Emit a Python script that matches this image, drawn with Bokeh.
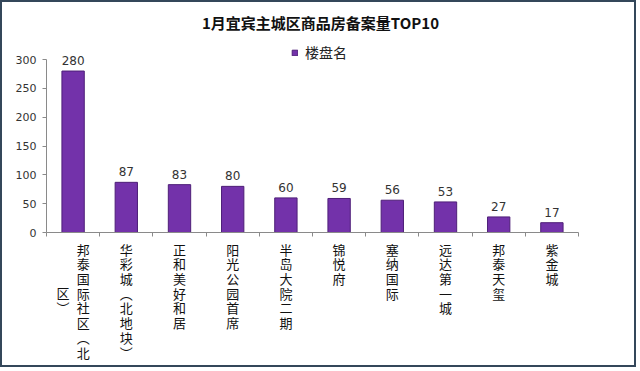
from bokeh.plotting import figure
from bokeh.models import (ColumnDataSource, LabelSet, Label, Range1d, FixedTicker,
                          Legend, LegendItem)
from bokeh.core.properties import value
from bokeh.embed import file_html
from bokeh.resources import INLINE

# ---- data ----
categories = ["邦泰国际社区（北区）", "华彩城（北地块）", "正和美好和居", "阳光公园首席",
              "半岛大院二期", "锦悦府", "塞纳国际", "远达第一城", "邦泰天玺", "紫金城"]
values = [280, 87, 83, 80, 60, 59, 56, 53, 27, 17]
y_ticks = [0, 50, 100, 150, 200, 250, 300]
title_text = "1月宜宾主城区商品房备案量TOP10"
series_name = "楼盘名"

# ---- layout constants (canvas pixels) ----
W, H = 636, 367          # canvas (plus 2px CSS border each side -> 640x371)
FL, FR, FT, FB = 44, 576, 57, 230   # plot-area edges in canvas px
YMAX = 300
N = len(categories)
CJK = "Noto Sans CJK SC"
NUM = "DejaVu Sans"
BAR = "#7332aa"
ROW = 14.6               # vertical pitch of stacked characters, px

def px_to_x(px):
    return (px - FL) / (FR - FL) * N

def px_to_y(py):
    return (FB - py) / (FB - FT) * YMAX

p = figure(width=W, height=H, output_backend="svg", toolbar_location=None,
           x_range=Range1d(px_to_x(0), px_to_x(W)),
           y_range=Range1d(px_to_y(H), px_to_y(0)),
           min_border_left=0, min_border_right=0,
           min_border_top=0, min_border_bottom=0)
p.styles = {"border": "2px solid #34475a"}
p.outline_line_color = None
p.background_fill_color = "white"
p.border_fill_color = "white"
p.xgrid.visible = False
p.ygrid.visible = False

xs = [i + 0.5 for i in range(N)]
src = ColumnDataSource(dict(x=xs, top=values, lab=[str(v) for v in values]))
bars = p.vbar(x="x", top="top", width=0.42, bottom=0, source=src,
              fill_color=BAR, line_color="#4e1f78", line_width=1)

# axes (placed at data 0 inside the full-canvas frame)
p.xaxis.fixed_location = 0
p.xaxis.bounds = (0, N)
p.xaxis.ticker = FixedTicker(ticks=list(range(N + 1)))
p.xaxis.major_label_overrides = {i: "" for i in range(N + 1)}
p.xaxis.major_tick_out = 4
p.xaxis.major_tick_in = 0
p.xaxis.minor_tick_line_color = None
p.xaxis.axis_line_color = "#8a8a8a"
p.xaxis.major_tick_line_color = "#8a8a8a"

p.yaxis.fixed_location = 0
p.yaxis.bounds = (0, YMAX)
p.yaxis.ticker = FixedTicker(ticks=y_ticks)
p.yaxis.minor_tick_line_color = None
p.yaxis.major_tick_out = 4
p.yaxis.major_tick_in = 0
p.yaxis.axis_line_color = "#8a8a8a"
p.yaxis.major_tick_line_color = "#8a8a8a"
p.yaxis.major_label_text_font = NUM
p.yaxis.major_label_text_font_size = "11px"
p.yaxis.major_label_text_color = "#333333"
p.yaxis.major_label_standoff = 6

# value labels
p.add_layout(LabelSet(x="x", y="top", text="lab", source=src, y_offset=6,
                      text_align="center", text_baseline="bottom",
                      text_font=value(NUM), text_font_size=value("12px"),
                      text_color="#333333"))

# vertical (stacked) category labels, wrapped at 8 characters per column;
# extra columns go to the left and are centred vertically on the first one
VMAP = {"（": "︵", "）": "︶"}
MAXROWS = 8
lx, ly, ltext = [], [], []
for i, name in enumerate(categories):
    chars = [VMAP.get(c, c) for c in name]
    cols = [chars[k:k + MAXROWS] for k in range(0, len(chars), MAXROWS)]
    ncol = len(cols)
    first = len(cols[0])
    for j, col in enumerate(cols):
        off = ((ncol - 1) / 2 - j) * 0.38
        lx.append(xs[i] + off)
        ly.append(px_to_y(FB + 7 + (first - len(col)) / 2 * ROW))
        ltext.append("\n".join(col))
lsrc = ColumnDataSource(dict(x=lx, y=ly, t=ltext))
p.add_layout(LabelSet(x="x", y="y", text="t", source=lsrc,
                      text_align="center", text_baseline="top",
                      text_font=value(CJK), text_font_size=value("13px"),
                      text_line_height=0.775, text_color="#111111"))

# title
p.add_layout(Label(x=px_to_x(318), y=px_to_y(20), text=title_text,
                   text_align="center", text_baseline="middle",
                   text_font=CJK, text_font_size="15px", text_font_style="bold",
                   text_color="#111111"))

# legend
legend = Legend(items=[LegendItem(label=series_name, renderers=[bars])],
                location=(289, H - 60), padding=0, margin=0, border_line_color=None,
                background_fill_alpha=0, glyph_width=7, glyph_height=7,
                label_standoff=7, label_height=14,
                label_text_font=CJK, label_text_font_size="14px",
                label_text_color="#222222")
p.add_layout(legend)

open("out.html", "w").write(file_html(p, INLINE))
